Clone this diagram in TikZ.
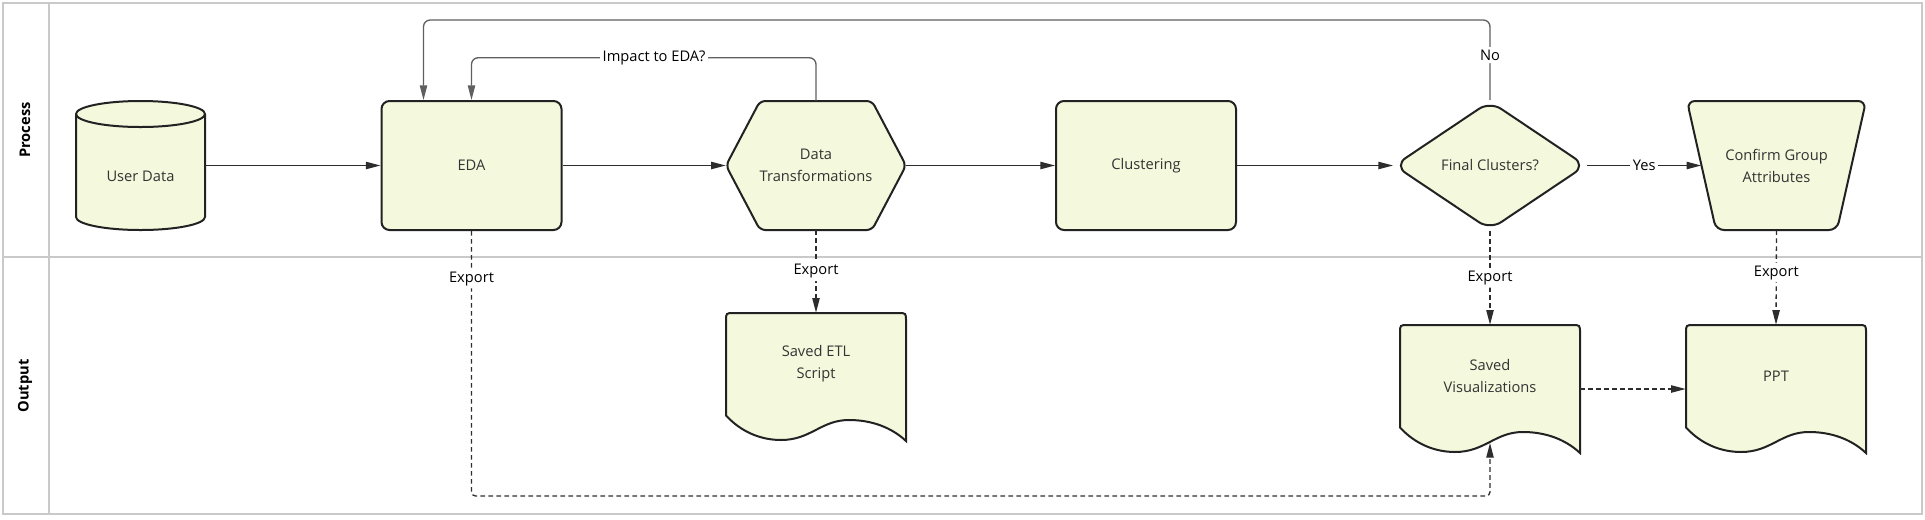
\documentclass[tikz,border=0pt]{standalone}
\usepackage{fontspec}
\setmainfont{Open Sans}
\usetikzlibrary{shapes.geometric,arrows.meta,backgrounds}

\definecolor{boxfill}{RGB}{244,248,220}
\definecolor{boxline}{RGB}{34,34,34}
\definecolor{flowline}{RGB}{45,45,45}
\definecolor{loopline}{RGB}{95,95,95}
\definecolor{laneline}{RGB}{201,201,201}
\definecolor{boxtext}{RGB}{51,51,51}

\tikzset{
  procbox/.style={draw=boxline, fill=boxfill, line width=1.5pt, rounded corners=6pt,
    minimum width=135pt, minimum height=96.75pt, text=boxtext, align=center,
    font=\fontsize{11}{16.5}\selectfont},
  decbox/.style={procbox, diamond, minimum width=144pt, rounded corners=10pt},
  shapebox/.style={inner sep=0pt, minimum height=96.75pt, text=boxtext, align=center,
    font=\fontsize{11}{16.5}\selectfont},
  docbox/.style={shapebox, minimum width=135pt, minimum height=96pt},
  boxlabel/.style={text=boxtext, align=center, font=\fontsize{11}{16.5}\selectfont},
  outline/.style={draw=boxline, fill=boxfill, line width=1.5pt},
  lbl/.style={fill=white, inner sep=2pt, text=black, font=\fontsize{11}{13}\selectfont},
  flow/.style={draw=flowline, line width=1pt, -{Triangle[length=11pt,width=5.5pt]}},
  loopflow/.style={flow, draw=loopline, rounded corners=5pt},
  dashflow/.style={flow, dash pattern=on 3.5pt off 2.5pt, rounded corners=3pt},
  lane/.style={draw=laneline, line width=1.2pt},
  lanetitle/.style={rotate=90, text=black, font=\bfseries\fontsize{11}{13}\selectfont}
}

\begin{document}
\begin{tikzpicture}[x=0.75pt, y=-0.75pt]
    \useasboundingbox (0,0) rectangle (1925,519);

    % Swimlanes
    \draw[lane] (3,3) rectangle (1922,514);
    \draw[lane] (49,3) -- (49,514);
    \draw[lane] (3,257) -- (1922,257);
    \node[lanetitle] (process) at (25,130) {Process};
    \node[lanetitle] (output) at (25,386) {Output};

    % Process lane
    \node[shapebox, minimum width=96.75pt, label={[boxlabel, yshift=-7.9pt]center:User Data}] (userdata) at (140.5,165.5) {};
    \node[procbox] (eda) at (471.5,165.5) {EDA};
    \node[shapebox, minimum width=135pt] (transform) at (816,165.5) {Data\\Transformations};
    \node[procbox] (cluster) at (1146,165.5) {Clustering};
    \node[decbox] (final) at (1490,165.5) {Final Clusters?};
    \node[shapebox, minimum width=112.5pt] (confirm) at (1776.5,165.5) {Confirm Group\\Attributes};

    % Output lane
    \node[docbox, label={[boxlabel, yshift=9.75pt]center:Saved ETL\\Script}] (etl) at (816,377) {};
    \node[docbox, label={[boxlabel, yshift=9.75pt]center:Saved\\Visualizations}] (viz) at (1490,389) {};
    \node[docbox, label={[boxlabel, yshift=9.75pt]center:PPT}] (ppt) at (1776,389) {};
    \coordinate (vizwave) at (1490,443);
    \coordinate (dashturn) at (1490,496);

    % Shapes behind the nodes
    \begin{scope}[on background layer]
        \draw[outline, shift={(userdata.center)}] (-64.5,-51.5) -- (-64.5,51.5)
            arc[start angle=180, end angle=360, x radius=48.375pt, y radius=9.75pt]
            -- (64.5,-51.5)
            arc[start angle=0, end angle=180, x radius=48.375pt, y radius=9.75pt] -- cycle;
        \draw[outline, fill=none, shift={(userdata.center)}] (-64.5,-51.5)
            arc[start angle=180, end angle=360, x radius=48.375pt, y radius=9.75pt];
        \draw[outline, rounded corners=4pt, shift={(transform.center)}]
            (-90,0) -- (-56,-64.5) -- (56,-64.5) -- (90,0) -- (56,64.5) -- (-56,64.5) -- cycle;
        \draw[outline, rounded corners=6pt, shift={(confirm.center)}]
            (-89.5,-64.5) -- (89.5,-64.5) -- (60.5,64.5) -- (-60.5,64.5) -- cycle;
        \foreach \doc in {etl,viz,ppt}
            \draw[outline, shift={(\doc.center)}] (-90,38.4) -- (-90,-56)
                .. controls (-90,-64) .. (-82,-64) -- (82,-64)
                .. controls (90,-64) .. (90,-56) -- (90,64)
                .. controls (75,50) and (55,43) .. (33,43)
                .. controls (5,43) and (-5,63) .. (-35,63)
                .. controls (-55,63) and (-75,55) .. (-90,38.4) -- cycle;
    \end{scope}

    % Main flow
    \draw[flow] (userdata) -- (eda);
    \draw[flow] (eda) -- (transform);
    \draw[flow] (transform) -- (cluster);
    \draw[flow] (cluster) -- (final);
    \draw[flow] (final) -- node[lbl] {Yes} (confirm);

    % Loops back to EDA
    \draw[loopflow] (transform.north) -- ++(0,-43) -| node[lbl, pos=0.235] {Impact to EDA?} (eda.north);
    \draw[loopflow] (final.north) -- ++(0,-80) node[lbl, pos=0.56] {No} -| ([xshift=-36pt]eda.north);

    % Exports
    \draw[dashflow] (eda.south) |- node[lbl, pos=0.09] {Export} (dashturn) -- (vizwave);
    \draw[dashflow] (transform.south) -- node[lbl] {Export} (etl.north);
    \draw[dashflow] (final.south) -- node[lbl] {Export} (viz.north);
    \draw[dashflow] (confirm.south) -- node[lbl, pos=0.45] {Export} (ppt.north);
    \draw[dashflow] (viz) -- (ppt);
\end{tikzpicture}
\end{document}
